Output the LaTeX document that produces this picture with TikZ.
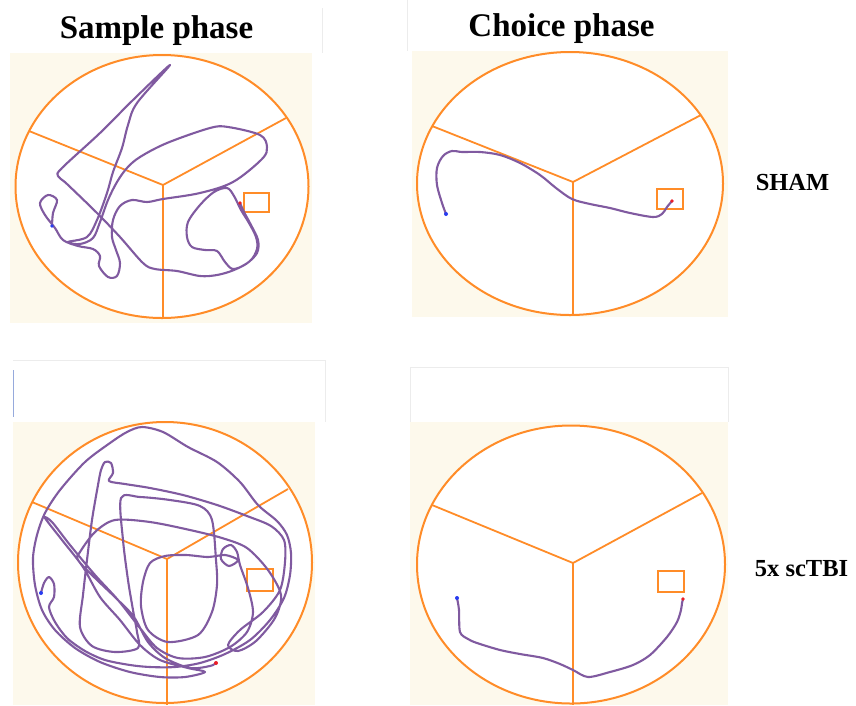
\documentclass[tikz,border=0pt]{standalone}
\usepackage{fontspec}
\setmainfont{Liberation Serif}
\definecolor{cream}{RGB}{253,249,236}
\definecolor{arenaorange}{RGB}{255,140,40}
\definecolor{trackpurple}{RGB}{128,90,160}
\definecolor{startblue}{RGB}{40,60,240}
\definecolor{endred}{RGB}{235,30,40}
\definecolor{edgegray}{RGB}{236,236,236}
\definecolor{markblue}{RGB}{150,170,220}
\tikzset{
  bgpanel/.style={fill=cream, draw=none},
  arena/.style={draw=arenaorange, fill=white, line width=2pt},
  spoke/.style={draw=arenaorange, line width=1.8pt},
  platform/.style={draw=arenaorange, line width=1.8pt},
  track/.style={draw=trackpurple, line width=2.1pt, line join=round, line cap=round},
  titletext/.style={font=\bfseries\fontsize{33}{38}\selectfont, anchor=base, inner sep=0pt},
  grouptext/.style={font=\bfseries\fontsize{24.5}{28}\selectfont, anchor=base, inner sep=0pt},
  startdot/.style={fill=startblue, draw=none},
  enddot/.style={fill=endred, draw=none}
}
\begin{document}
\begin{tikzpicture}[x=1pt,y=-1pt]
\useasboundingbox (0,0) rectangle (856,705);
\fill[white] (0,0) rectangle (856,705);

% ---------------- Panel 1: Sample phase, SHAM ----------------
\fill[white] (0,0) rectangle (322,53);
\draw[edgegray, line width=0.8pt] (322,8) -- (322,53);
\fill[bgpanel] (10,53) rectangle (312,323);
\coordinate (c1) at (162,186.5);
\draw[arena] (c1) ellipse [x radius=146.5pt, y radius=131.5pt];
\coordinate (k1) at (163,185);
\coordinate (l1) at (29,131);
\coordinate (r1) at (286,118);
\coordinate (b1) at (163,318);
\draw[spoke] (l1) -- (k1) -- (r1);
\draw[spoke] (k1) -- (b1);
\draw[platform] (244,193) rectangle (269,212);
\draw[track] plot[smooth, tension=0.55] coordinates {
 (52,226) (53,213) (57,200) (48,195) (40,203) (45,215) (55,228) (63,240)
 (78,246) (93,249) (100,256) (99,266) (108,277) (117,276) (120,263) (116,250)
 (112,237) (113,220) (120,206) (132,200) (147,202) (163,199) (200,193) (233,182)
 (262,159) (267,147) (260,135) (228,127) (210,128) (167,143) (140,157) (127,168)
 (117,182) (108,200) (100,222) (93,238) (80,244) (68,242) (87,237) (97,220)
 (107,193) (113,172) (122,148) (128,125) (137,103) (170,65) (133,100) (100,133)
 (62,168) (58,176) (67,184) (97,213) (120,237) (143,263) (155,269) (177,271)
 (200,276) (217,275) (234,270) (250,261) (257,249) (256,237) (249,223) (241,210)
 (234,196) (227,188) (214,192) (200,205) (188,222) (187,237) (192,247) (205,250)
 (217,251) (225,262) (233,269) (246,264) (257,253) (258,240) (251,225) (244,212) (240,203)};
\fill[startblue] (52,226) circle (1.8);
\fill[endred] (240,203) circle (1.8);
\node[titletext] (t1) at (156.5,38.7) {Sample phase};

% ---------------- Panel 2: Choice phase, SHAM ----------------
\fill[white] (407,0) rectangle (728,51);
\draw[edgegray, line width=0.8pt] (407,0) -- (407,51);
\fill[bgpanel] (412,51) rectangle (728,317);
\coordinate (c2) at (570,183.5);
\draw[arena] (c2) ellipse [x radius=153pt, y radius=131.5pt];
\coordinate (k2) at (573,182);
\coordinate (l2) at (432,126);
\coordinate (r2) at (701,115);
\coordinate (b2) at (573,315);
\draw[spoke] (l2) -- (k2) -- (r2);
\draw[spoke] (k2) -- (b2);
\draw[platform] (657,189) rectangle (683,209);
\draw[track] plot[smooth, tension=0.55] coordinates {
 (446,214) (442,203) (437,185) (437,168) (443,156) (452,151) (462,152) (480,152)
 (500,155) (520,163) (540,175) (556,188) (572,199) (590,204) (610,208) (630,213)
 (653,217) (662,214) (667,207) (672,201)};
\fill[startblue] (446,214) circle (2);
\fill[endred] (672,201) circle (1.8);
\node[titletext] (t2) at (561.5,36) {Choice phase};
\node[grouptext] (g1) at (792.5,190) {SHAM};

% ---------------- Panel 3: Sample phase, 5x scTBI ----------------
\fill[white] (13,360) rectangle (325,422);
\draw[edgegray, line width=0.8pt] (13,360) -- (325,360) -- (325,422);
\draw[markblue, line width=1pt] (13,370) -- (13,417);
\fill[bgpanel] (13,422) rectangle (315,705);
\coordinate (c3) at (165,562.5);
\draw[arena] (c3) ellipse [x radius=147pt, y radius=140.5pt];
\coordinate (k3) at (167,559);
\coordinate (l3) at (32,502);
\coordinate (r3) at (288,489);
\coordinate (b3) at (167,705);
\draw[spoke] (l3) -- (k3) -- (r3);
\draw[spoke] (k3) -- (b3);
\draw[platform] (247,569) rectangle (273,591);
\draw[track] plot[smooth, tension=0.5] coordinates {
 (41,593) (44,583) (49,577) (54,584) (54,597) (49,607) (55,622) (67,638)
 (85,651) (105,660) (130,665) (150,667) (175,667) (200,663) (225,654) (250,640)
 (270,620) (284,598) (290,575) (291,553) (287,535) (277,521) (258,505) (240,482)
 (217,462) (188,447) (163,432) (142,427) (127,432) (110,443) (85,462) (60,490)
 (45,513) (37,535) (33,558) (35,585) (42,610) (55,630) (75,648) (100,662)
 (130,672) (160,677) (185,677) (205,672) (188,668) (160,660) (140,645) (120,620)
 (100,597) (83,567) (62,540) (45,518) (52,522) (70,545) (95,575) (118,600)
 (140,628) (157,648) (178,658) (205,657) (230,647) (247,632) (253,612) (248,588)
 (240,565) (237,552) (231,545) (223,549) (221,559) (229,566) (238,560) (225,555)
 (208,557) (186,555) (165,556) (150,563) (143,582) (141,606) (148,630) (168,642)
 (198,635) (212,612) (217,585) (216,560) (212,520) (200,506) (170,500) (140,497)
 (121,498) (123,540) (128,580) (133,610) (137,632) (138,648) (115,652) (92,646)
 (80,627) (83,595) (87,560) (92,520) (98,485) (101,470) (105,462) (111,463)
 (113,473) (109,481) (125,484) (150,488) (183,495) (217,505) (247,516) (271,526)
 (284,540) (285,562) (280,590) (263,612) (240,630) (228,645) (238,651) (256,641)
 (275,618) (281,595) (268,570) (247,548) (222,538) (190,530) (150,522) (115,520)
 (95,532) (80,552) (78,560) (95,578) (118,600) (134,617) (148,642) (165,658)
 (190,668) (210,666) (216,663)};
\fill[startblue] (41,593) circle (2);
\fill[endred] (216,663) circle (2);

% ---------------- Panel 4: Choice phase, 5x scTBI ----------------
\fill[white] (410,367) rectangle (728,422);
\draw[edgegray, line width=0.8pt] (410,422) -- (410,367) -- (728,367) -- (728,422);
\fill[bgpanel] (410,422) rectangle (728,705);
\coordinate (c4) at (571,564.5);
\draw[arena] (c4) ellipse [x radius=154pt, y radius=139pt];
\coordinate (k4) at (573,563);
\coordinate (l4) at (432,505);
\coordinate (r4) at (702,493);
\coordinate (b4) at (573,705);
\draw[spoke] (l4) -- (k4) -- (r4);
\draw[spoke] (k4) -- (b4);
\draw[platform] (658,571) rectangle (684,592);
\draw[track] plot[smooth, tension=0.5] coordinates {
 (457,598) (459,610) (460,632) (468,639) (477,643) (500,650) (520,654) (543,658)
 (560,664) (573,670) (588,677) (610,672) (633,665) (650,655) (667,637) (677,622)
 (681,610) (682,603) (683,599)};
\fill[startblue] (457,598) circle (2);
\fill[endred] (683,599) circle (1.8);
\node[grouptext] (g2) at (801.5,576.7) {5x scTBI};
\end{tikzpicture}
\end{document}
